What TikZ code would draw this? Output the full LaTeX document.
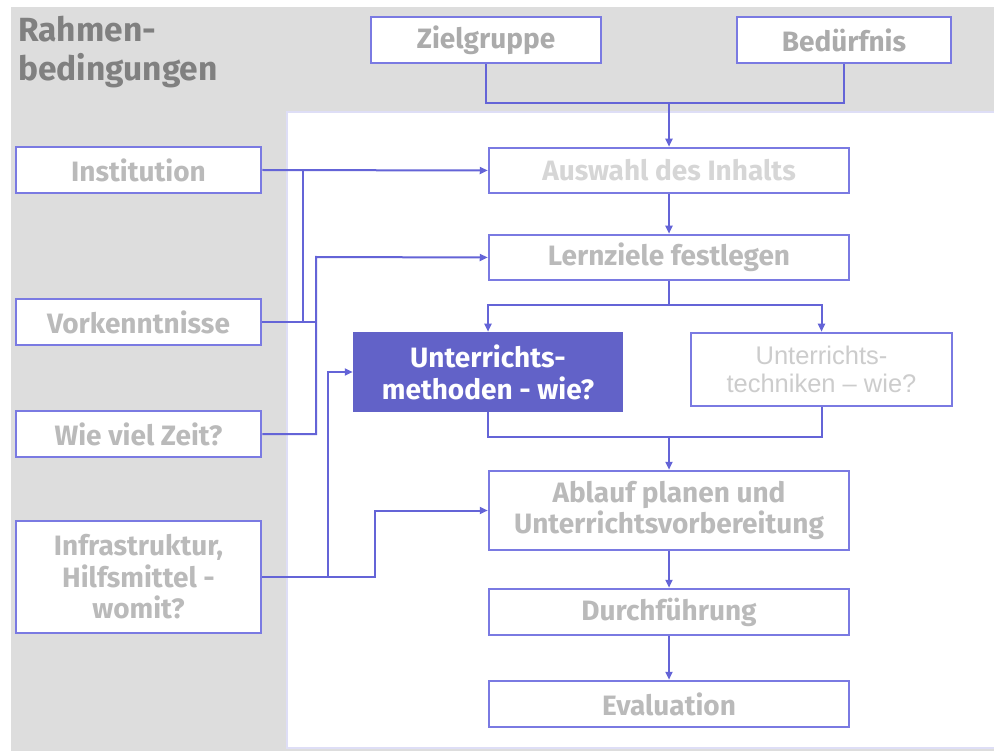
\documentclass[tikz,border=0pt]{standalone}
\usepackage{fontspec}
\setmainfont{Fira Sans}
\newfontfamily\arialfont{Liberation Sans}
\usetikzlibrary{arrows.meta}
\definecolor{linienblau}{RGB}{100,100,215}
\definecolor{rahmenblau}{RGB}{122,122,226}
\definecolor{grauflaeche}{RGB}{221,221,221}
\definecolor{feldblau}{RGB}{98,98,200}
\definecolor{panelrand}{RGB}{222,222,246}
\definecolor{titelgrau}{RGB}{128,128,128}
\tikzset{
  kasten/.style={draw=rahmenblau, line width=2.5pt, fill=white, align=center,
    font=\fontsize{28}{31.5}\selectfont\bfseries, text=#1},
  kasten/.default={black!27},
  verb/.style={draw=linienblau, line width=2pt},
  pfeil/.style={verb, -{Triangle[length=8pt,width=7pt]}},
}
\begin{document}
\begin{tikzpicture}[x=1pt,y=-1pt]
  \useasboundingbox (0,0) rectangle (994,751);
  %% Flaechen
  \fill[grauflaeche] (11,7) rectangle (994,751);
  \draw[panelrand, fill=white, line width=1.5pt] (287,112) rectangle (996,748);
  \node[anchor=north west, align=left, text=titelgrau, inner sep=0pt,
    font=\fontsize{33.5}{39}\selectfont\bfseries] (titel) at (18,16) {Rahmen-\\bedingungen};

  %% Rahmenbedingungen
  \node[kasten=black!33, minimum width=230pt, minimum height=46pt] (ziel) at (486,40) {Zielgruppe};
  \node[kasten=black!33, minimum width=214pt, minimum height=46pt] (beduerfnis) at (844,40) {Bedürfnis};
  \node[kasten, minimum width=245pt, minimum height=46pt] (inst) at (138.5,170) {Institution};
  \node[kasten, minimum width=245pt, minimum height=46pt] (vork) at (138.5,322) {Vorkenntnisse};
  \node[kasten, minimum width=245pt, minimum height=46pt] (zeit) at (138.5,434) {Wie viel Zeit?};
  \node[kasten, minimum width=245pt, minimum height=112pt] (infra) at (138.5,577) {Infrastruktur,\\Hilfsmittel -\\womit?};

  %% Ablauf
  \node[kasten=black!16, minimum width=360pt, minimum height=45pt] (auswahl) at (669,170.5) {Auswahl des Inhalts};
  \node[kasten, minimum width=360pt, minimum height=45pt] (lernziele) at (669,257.5) {Lernziele festlegen};
  \node[kasten=white, fill=feldblau, draw=feldblau, minimum width=268pt, minimum height=78pt,
    font=\fontsize{28}{32}\selectfont\bfseries] (methoden) at (488,372) {Unterrichts-\\methoden - wie?};
  \node[kasten=black!20, minimum width=261pt, minimum height=73pt,
    font=\arialfont\fontsize{25.5}{28}\selectfont] (techniken) at (821.5,369.5) {Unterrichts-\\techniken – wie?};
  \node[kasten, minimum width=360pt, minimum height=79pt] (ablauf) at (669,510.5) {Ablauf planen und\\Unterrichtsvorbereitung};
  \node[kasten, minimum width=360pt, minimum height=46pt] (durch) at (669,612) {Durchführung};
  \node[kasten, minimum width=360pt, minimum height=46pt] (eval) at (669,704) {Evaluation};

  %% Verbindungen oben
  \coordinate (k0) at (669,103);
  \draw[verb] (ziel.south) |- (k0) -| (beduerfnis.south);
  \draw[pfeil] (k0) -- (auswahl.north);
  \draw[pfeil] (auswahl.south) -- (lernziele.north);

  %% Verbindungen links
  \coordinate (k1) at (303,170);
  \coordinate (k2) at (316,257);
  \coordinate (k3) at (328,372);
  \coordinate (k4) at (375,510.5);
  \draw[pfeil] (inst.east) -- (auswahl.west);
  \draw[verb] (k1) -- (k1 |- vork.east);
  \draw[verb] (vork.east) -- (vork.east -| k2);
  \draw[pfeil] (zeit.east) -| (k2) -- (lernziele.west);
  \draw[pfeil] (infra.east) -| (k3) -- (methoden.west);
  \draw[pfeil] (infra.east) -| (k4) -- (ablauf.west);

  %% Verzweigung Methoden / Techniken
  \coordinate (k5) at (669,305);
  \coordinate (k6) at (669,437);
  \draw[verb] (lernziele.south) -- (k5);
  \draw[pfeil] (k5) -| (methoden.north);
  \draw[pfeil] (k5) -| (techniken.north);
  \draw[verb] (methoden.south) |- (k6);
  \draw[verb] (techniken.south) |- (k6);
  \draw[pfeil] (k6) -- (ablauf.north);
  \draw[pfeil] (ablauf.south) -- (durch.north);
  \draw[pfeil] (durch.south) -- (eval.north);
\end{tikzpicture}
\end{document}
